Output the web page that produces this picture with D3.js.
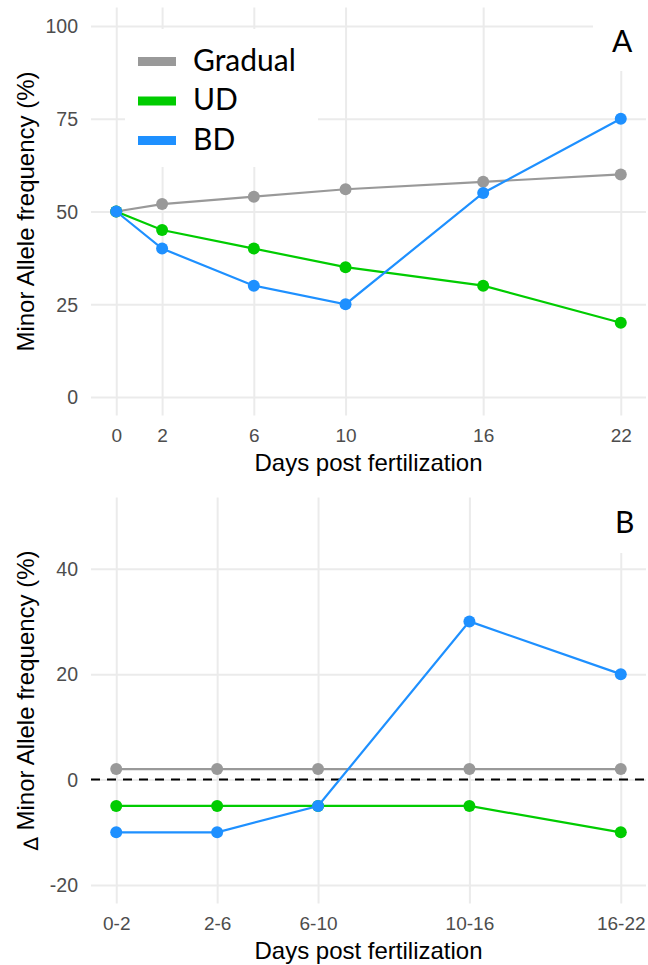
<!DOCTYPE html>
<html>
<head>
<meta charset="utf-8">
<script src="https://cdn.jsdelivr.net/npm/d3@7"></script>
<style>
  body { margin: 0; background: #fff; }
  svg { display: block; }
</style>
</head>
<body>
<svg id="chart" width="648" height="965"></svg>
<script>
// ---- data ----
const seriesNames = ["Gradual", "UD", "BD"];
const seriesColors = ["#999999", "#00CC00", "#1E90FF"];

// Panel A: minor allele frequency by day
const days = [0, 2, 6, 10, 16, 22];
const freqGradual = [50, 52, 54, 56, 58, 60];
const freqUD = [50, 45, 40, 35, 30, 20];
const freqBD = [50, 40, 30, 25, 55, 75];
const freqTicks = [0, 25, 50, 75, 100];

// Panel B: change in frequency per interval (placed at interval end day)
const intervalLabels = ["0-2", "2-6", "6-10", "10-16", "16-22"];
const intervalEnds = [2, 6, 10, 16, 22];
const deltaGradual = [2, 2, 2, 2, 2];
const deltaUD = [-5, -5, -5, -5, -10];
const deltaBD = [-10, -10, -5, 30, 20];
const deltaTicks = [-20, 0, 20, 40];

// ---- layout ----
const svg = d3.select("#chart");
const left = 91, right = 646;
const axisFont = "'Liberation Sans', Arial, sans-serif";
const labelFont = "Lato, 'Open Sans', sans-serif";
const gridColor = "#ebebeb";
const tickColor = "#4d4d4d";
const plainNumber = d => String(d);   // keeps the ASCII hyphen for negatives

function expand(lo, hi) {
  const pad = (hi - lo) * 0.05;
  return [lo - pad, hi + pad];
}

function drawPanel(opts) {
  const { top, bottom, x, y, xTicks, xTickFormat, yTicks } = opts;
  const g = svg.append("g");

  // horizontal grid + y tick labels
  const yAxis = d3.axisLeft(y)
    .tickValues(yTicks)
    .tickSize(-(right - left))
    .tickPadding(13)
    .tickFormat(plainNumber);
  const gy = g.append("g").attr("transform", `translate(${left},0)`).call(yAxis);
  gy.select(".domain").remove();
  gy.selectAll(".tick line").attr("stroke", gridColor).attr("stroke-width", 2);
  gy.selectAll(".tick text")
    .attr("fill", tickColor)
    .attr("font-family", axisFont)
    .attr("font-size", 19.5)
    .attr("dy", "0.35em");

  // vertical grid + x tick labels
  const xAxis = d3.axisBottom(x)
    .tickValues(xTicks)
    .tickSize(-(bottom - top))
    .tickFormat(xTickFormat);
  const gx = g.append("g").attr("transform", `translate(0,${bottom})`).call(xAxis);
  gx.select(".domain").remove();
  gx.selectAll(".tick line").attr("stroke", gridColor).attr("stroke-width", 2);
  gx.selectAll(".tick text")
    .attr("fill", tickColor)
    .attr("font-family", axisFont)
    .attr("font-size", 19)
    .attr("y", 26)
    .attr("dy", null);

  // x axis title
  g.append("text")
    .attr("x", (left + right) / 2)
    .attr("y", bottom + 55)
    .attr("text-anchor", "middle")
    .attr("font-family", axisFont)
    .attr("font-size", 24)
    .attr("fill", "#000")
    .text("Days post fertilization");

  return g;
}

function drawSeries(g, x, y, xs, series) {
  const line = d3.line().x((d, i) => x(xs[i])).y(d => y(d));
  series.forEach((vals, k) => {
    g.append("path")
      .datum(vals)
      .attr("d", line)
      .attr("fill", "none")
      .attr("stroke", seriesColors[k])
      .attr("stroke-width", 2.2);
    g.selectAll(null)
      .data(vals)
      .enter()
      .append("circle")
      .attr("cx", (d, i) => x(xs[i]))
      .attr("cy", d => y(d))
      .attr("r", 6)
      .attr("fill", seriesColors[k]);
  });
}

// ---- Panel A ----
const topA = 7.5, bottomA = 415.5;
const xA = d3.scaleLinear().domain(expand(0, 22)).range([left, right]);
const yA = d3.scaleLinear().domain(expand(0, 100)).range([bottomA, topA]);
const gA = drawPanel({
  top: topA, bottom: bottomA, x: xA, y: yA,
  xTicks: days, xTickFormat: plainNumber, yTicks: freqTicks
});

// y title A
gA.append("text")
  .attr("transform", `translate(34,${(topA + bottomA) / 2}) rotate(-90)`)
  .attr("text-anchor", "middle")
  .attr("font-family", axisFont)
  .attr("font-size", 24)
  .attr("fill", "#000")
  .text("Minor Allele frequency (%)");

// legend box and panel tag A
gA.append("rect").attr("x", 125).attr("y", 29).attr("width", 193).attr("height", 138).attr("fill", "#fff");
gA.append("rect").attr("x", 593).attr("y", 0).attr("width", 55).attr("height", 71).attr("fill", "#fff");
gA.append("text")
  .attr("x", 612).attr("y", 52)
  .attr("font-family", labelFont).attr("font-size", 30).attr("fill", "#000")
  .text("A");

const legendRowY = d3.scalePoint().domain(seriesNames).range([61.5, 140.5]);
const legend = gA.append("g");
seriesNames.forEach((name, k) => {
  const cy = legendRowY(name);
  legend.append("rect")
    .attr("x", 138).attr("y", cy - 4.5)
    .attr("width", 38).attr("height", 9)
    .attr("fill", seriesColors[k]);
  legend.append("text")
    .attr("x", 193).attr("y", cy + 9)
    .attr("font-family", labelFont).attr("font-size", 30).attr("fill", "#000")
    .text(name);
});

drawSeries(gA, xA, yA, days, [freqGradual, freqUD, freqBD]);

// ---- Panel B ----
const topB = 497.5, bottomB = 903.5;
const xB = d3.scaleLinear().domain(expand(2, 22)).range([left, right]);
const yB = d3.scaleLinear().domain(expand(-20, 50)).range([bottomB, topB]);
const gB = drawPanel({
  top: topB, bottom: bottomB, x: xB, y: yB,
  xTicks: intervalEnds,
  xTickFormat: (d, i) => intervalLabels[i],
  yTicks: deltaTicks
});

// y title B
const tB = gB.append("text")
  .attr("transform", `translate(34,${(topB + bottomB) / 2}) rotate(-90)`)
  .attr("text-anchor", "middle")
  .attr("font-family", axisFont)
  .attr("font-size", 24)
  .attr("fill", "#000");
tB.append("tspan").attr("font-family", "'DejaVu Sans', sans-serif").attr("font-size", 20).attr("dy", 4).text("\u2206");
tB.append("tspan").attr("dy", -4).text(" Minor Allele frequency (%)");

// panel tag B
gB.append("rect").attr("x", 593).attr("y", 480).attr("width", 55).attr("height", 73).attr("fill", "#fff");
gB.append("text")
  .attr("x", 615).attr("y", 533)
  .attr("font-family", labelFont).attr("font-size", 30).attr("fill", "#000")
  .text("B");

// zero reference line
gB.append("line")
  .attr("x1", left).attr("x2", right)
  .attr("y1", yB(0)).attr("y2", yB(0))
  .attr("stroke", "#000")
  .attr("stroke-width", 2)
  .attr("stroke-dasharray", "9,7");

drawSeries(gB, xB, yB, intervalEnds, [deltaGradual, deltaUD, deltaBD]);
</script>
</body>
</html>
